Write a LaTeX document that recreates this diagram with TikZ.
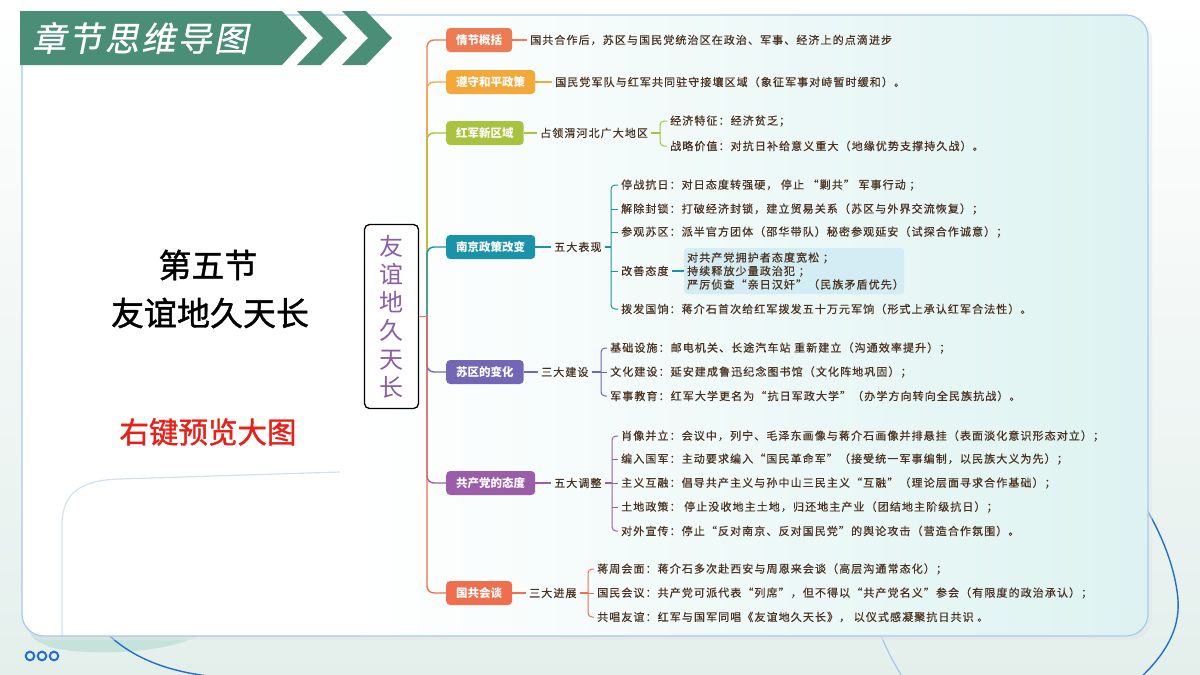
\documentclass[tikz,border=0pt]{standalone}
\usepackage{fontspec}
\setmainfont{Noto Sans CJK SC}
\newfontfamily\cjk{Noto Sans CJK SC}
\newfontfamily\midfont[FakeBold=1.2]{Noto Sans CJK SC}
\newfontfamily\leaffont[LetterSpace=10,FakeBold=0.5]{Noto Sans CJK SC}
\newfontfamily\headfont[FakeSlant=0.2,LetterSpace=7,FakeBold=0.8]{Noto Sans CJK SC}
\definecolor{c1}{HTML}{EE7B54}
\definecolor{c2}{HTML}{F5A83A}
\definecolor{c3}{HTML}{A9C23F}
\definecolor{c4}{HTML}{1A93A8}
\definecolor{c5}{HTML}{7367B5}
\definecolor{c6}{HTML}{9B5CA8}
\definecolor{c7}{HTML}{EE6E4E}
\definecolor{leafc}{HTML}{4A3220}
\definecolor{boxc}{HTML}{D4EDF5}
\definecolor{rootc}{HTML}{8D5CA6}
\definecolor{hdr}{HTML}{4B8E77}
\definecolor{redc}{HTML}{E8201A}
\definecolor{panelR}{HTML}{DDF3F1}
\definecolor{panelB}{HTML}{A8C8EE}
\definecolor{bgB}{HTML}{E4EFEC}
\definecolor{blobc}{HTML}{C5E3DB}
\definecolor{arcc}{HTML}{1F6FD0}
\definecolor{lightarc}{HTML}{A6C6EA}
\definecolor{cardc}{HTML}{D2E1F2}
\begin{document}
\begin{tikzpicture}[x=1pt,y=-1pt,
  branch/.style={rounded corners=4pt, minimum height=24pt, inner xsep=10pt, inner ysep=0pt, text=white, font=\cjk\bfseries\fontsize{11.5}{13}\selectfont, anchor=west},
  leaf/.style={anchor=west, inner xsep=3pt, inner ysep=1pt, text=leafc, font=\leaffont\fontsize{11}{13}\selectfont},
  trunk/.style={line width=1.4pt, rounded corners=7pt},
  link/.style={line width=1.2pt},
  brk/.style={line width=1pt, rounded corners=4pt},
  title/.style={inner sep=0pt, font=\midfont\fontsize{33}{38}\selectfont}
]
\useasboundingbox (0,0) rectangle (1200,675);
% background
\shade[top color=white, middle color=white, bottom color=bgB] (0,0) rectangle (1200,675);
% decorations behind panel
\fill[blobc] (28,628) -- (198,636) .. controls (170,650) and (120,655) .. (72,651) .. controls (45,648) and (30,640) .. (28,628) -- cycle;
\draw[arcc, line width=1.4pt] (60,540) .. controls (80,630) and (130,672) .. (230,678);
\draw[arcc, line width=1.4pt] (1125,480) .. controls (1152,510) and (1175,560) .. (1178,600) .. controls (1180,630) and (1165,655) .. (1138,680);
\draw[lightarc, line width=1.2pt] (875,620) .. controls (884,645) and (893,662) .. (903,678);
% panel
\fill[black!10, opacity=.5, rounded corners=22pt] (24,18) rectangle (1152,640);
\fill[white, rounded corners=22pt] (22,15) rectangle (1148,636);
\begin{scope}
\clip[rounded corners=22pt] (22,15) rectangle (1148,636);
\shade[left color=white, right color=panelR] (360,15) rectangle (1148,636);
\draw[cardc, line width=1.2pt] (62,640) -- (62,525) .. controls (62,492) and (82,480) .. (120,479) -- (340,472);
\end{scope}
\draw[panelB, line width=1.2pt, rounded corners=22pt] (22,15) rectangle (1148,636);
% dots
\foreach \xx in {30,42,54} \draw[arcc, line width=2pt] (\xx,656) circle (4.3pt);
% header
\fill[hdr] (20,11) -- (282,11) -- (307,38) -- (282,65) -- (20,65) -- cycle;
\fill[hdr] (297,11) -- (321,11) -- (347,38) -- (321,65) -- (297,65) -- (323,38) -- cycle;
\fill[hdr] (342,11) -- (366,11) -- (392,38) -- (366,65) -- (342,65) -- (368,38) -- cycle;
\node[anchor=west, text=white, font=\headfont\fontsize{34}{40}\selectfont, inner sep=0pt] (hd) at (32,38) {章节思维导图};
% left titles
\node[title] (t1) at (208,265) {第五节};
\node[title] (t2) at (210,313) {友谊地久天长};
\node[title, text=redc, font=\midfont\fontsize{29.5}{34}\selectfont] (t3) at (208,432) {右键预览大图};
% root
\node[draw=black, line width=1.3pt, rounded corners=5pt, fill=white, minimum width=54pt, minimum height=184pt, inner sep=0pt, align=center, text=rootc, font=\cjk\fontsize{24}{28.2}\selectfont] (root) at (391.5,316.5) {友\\谊\\地\\久\\天\\长};
\coordinate (tk) at (427,316.5);
% branch nodes
\node[branch, fill=c1] (b1) at (446,40) {情节概括};
\node[branch, fill=c2] (b2) at (446,82) {遵守和平政策};
\node[branch, fill=c3] (b3) at (446,133) {红军新区域};
\node[branch, fill=c4] (b4) at (446,247) {南京政策改变};
\node[branch, fill=c5] (b5) at (446,372) {苏区的变化};
\node[branch, fill=c6] (b6) at (446,483) {共产党的态度};
\node[branch, fill=c7] (b7) at (446,593) {国共会谈};
% trunk
\draw[trunk, c1] (tk) |- (b1.west);
\draw[trunk, c2] (tk) |- (b2.west);
\draw[trunk, c3] (tk) |- (b3.west);
\draw[trunk, c4] (tk) |- (b4.west);
\draw[trunk, c5] (tk) |- (b5.west);
\draw[trunk, c6] (tk) |- (b6.west);
\draw[trunk, c7] (tk) |- (b7.west);
\draw[link, c7, line width=1.4pt] (root.east) -- (tk);
% branch 1
\node[leaf] (l1) at (527,40) {国共合作后，苏区与国民党统治区在政治、军事、经济上的点滴进步};
\draw[link,c1] (b1.east) -- (l1.west);
% branch 2
\node[leaf] (l2) at (552,82) {国民党军队与红军共同驻守接壤区域（象征军事对峙暂时缓和）。};
\draw[link,c2] (b2.east) -- (l2.west);
% branch 3
\node[leaf] (s3) at (537,133) {占领渭河北广大地区};
\coordinate (k3) at (660,133);
\node[leaf] (c31) at (667,121) {经济特征：经济贫乏；};
\node[leaf] (c32) at (667,146) {战略价值：对抗日补给意义重大（地缘优势支撑持久战）。};
\draw[link,c3] (b3.east) -- (s3.west);
\draw[link,c3] (s3.east) -- (k3);
\draw[brk,c3] (c31.west) -| (k3) |- (c32.west);
% branch 4
\node[leaf] (s4) at (551,247) {五大表现};
\coordinate (k4) at (611,247);
\node[leaf] (c41) at (618,185) {停战抗日：对日态度转强硬， 停止 “剿共” 军事行动 ；};
\node[leaf] (c42) at (618,209) {解除封锁：打破经济封锁，建立贸易关系（苏区与外界交流恢复）；};
\node[leaf] (c43) at (618,232) {参观苏区：派半官方团体（邵华带队）秘密参观延安（试探合作诚意）；};
\node[leaf] (c44) at (618,271) {改善态度};
\node[leaf] (c45) at (618,309) {拨发国饷：蒋介石首次给红军拨发五十万元军饷（形式上承认红军合法性）。};
\node[leaf, fill=boxc, rounded corners=3pt, text width=214pt, inner xsep=3pt, inner ysep=4pt, minimum height=46pt, align=left, font=\leaffont\fontsize{11}{13.5}\selectfont] (bx) at (684,271) {对共产党拥护者态度宽松 ；\\持续释放少量政治犯 ；\\严厉侦查“亲日汉奸”（民族矛盾优先）};
\draw[link,c4] (b4.east) -- (s4.west);
\draw[link,c4] (s4.east) -- (k4);
\draw[brk,c4] (c41.west) -| (k4) |- (c45.west);
\draw[brk,c4] (k4 |- c42.west) -- (c42.west);
\draw[brk,c4] (k4 |- c43.west) -- (c43.west);
\draw[brk,c4] (k4 |- c44.west) -- (c44.west);
\draw[link,c4] (c44.east) -- (bx.west);
% branch 5
\node[leaf] (s5) at (538,372) {三大建设};
\coordinate (k5) at (601,372);
\node[leaf] (c51) at (607,348) {基础设施：邮电机关、长途汽车站 重新建立（沟通效率提升）；};
\node[leaf] (c52) at (607,372) {文化建设：延安建成鲁迅纪念图书馆（文化阵地巩固）；};
\node[leaf] (c53) at (607,396) {军事教育：红军大学更名为“抗日军政大学”（办学方向转向全民族抗战）。};
\draw[link,c5] (b5.east) -- (s5.west);
\draw[link,c5] (s5.east) -- (k5);
\draw[brk,c5] (c51.west) -| (k5) |- (c53.west);
\draw[brk,c5] (k5 |- c52.west) -- (c52.west);
% branch 6
\node[leaf] (s6) at (551,483) {五大调整};
\coordinate (k6) at (612,483);
\node[leaf] (c61) at (618,436) {肖像并立：会议中，列宁、毛泽东画像与蒋介石画像并排悬挂（表面淡化意识形态对立）；};
\node[leaf] (c62) at (618,459) {编入国军：主动要求编入“国民革命军”（接受统一军事编制，以民族大义为先）；};
\node[leaf] (c63) at (618,483) {主义互融：倡导共产主义与孙中山三民主义“互融”（理论层面寻求合作基础）；};
\node[leaf] (c64) at (618,507) {土地政策： 停止没收地主土地，归还地主产业（团结地主阶级抗日）；};
\node[leaf] (c65) at (618,531) {对外宣传：停止“反对南京、反对国民党”的舆论攻击（营造合作氛围）。};
\draw[link,c6] (b6.east) -- (s6.west);
\draw[link,c6] (s6.east) -- (k6);
\draw[brk,c6] (c61.west) -| (k6) |- (c65.west);
\draw[brk,c6] (k6 |- c62.west) -- (c62.west);
\draw[brk,c6] (k6 |- c63.west) -- (c63.west);
\draw[brk,c6] (k6 |- c64.west) -- (c64.west);
% branch 7
\node[leaf] (s7) at (526,593) {三大进展};
\coordinate (k7) at (588,593);
\node[leaf] (c71) at (594,569) {蒋周会面：蒋介石多次赴西安与周恩来会谈（高层沟通常态化）；};
\node[leaf] (c72) at (594,593) {国民会议：共产党可派代表“列席”，但不得以“共产党名义”参会（有限度的政治承认）；};
\node[leaf] (c73) at (594,617) {共唱友谊：红军与国军同唱《友谊地久天长》， 以仪式感凝聚抗日共识 。};
\draw[link,c7] (b7.east) -- (s7.west);
\draw[link,c7] (s7.east) -- (k7);
\draw[brk,c7] (c71.west) -| (k7) |- (c73.west);
\draw[brk,c7] (k7 |- c72.west) -- (c72.west);
\end{tikzpicture}
\end{document}
